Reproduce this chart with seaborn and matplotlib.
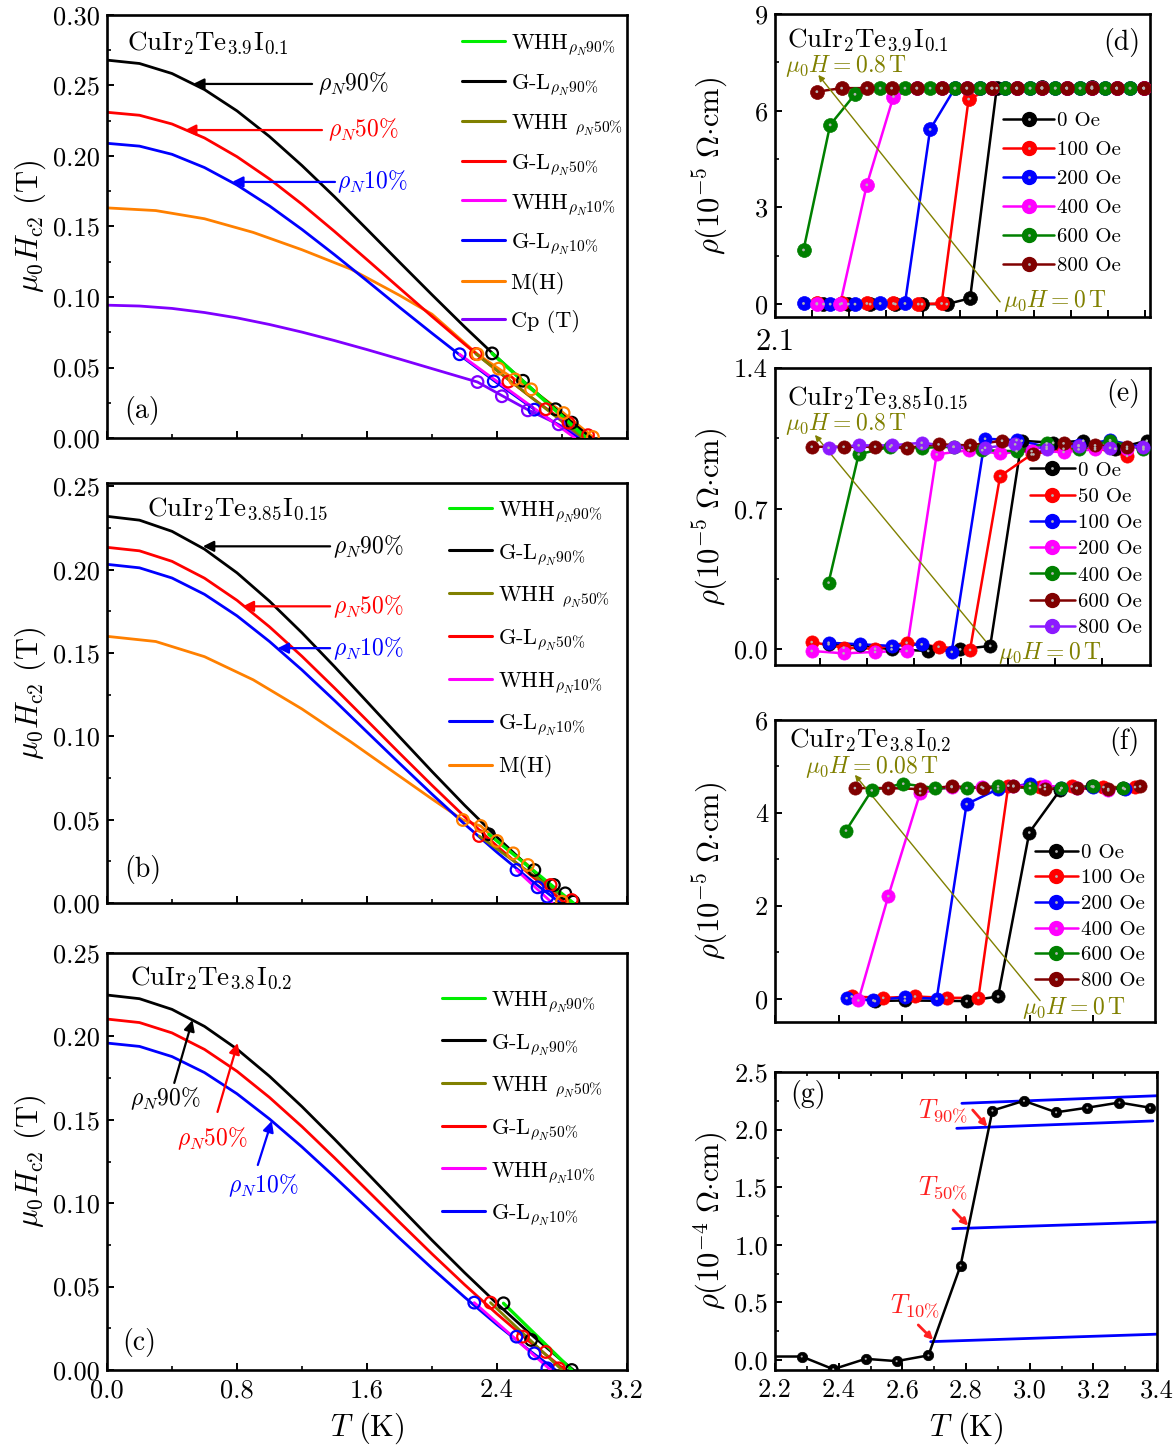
import numpy as np
import pandas as pd
import matplotlib
matplotlib.use("Agg")
import matplotlib.pyplot as plt
import seaborn as sns
from matplotlib.lines import Line2D
from matplotlib.ticker import MultipleLocator, FormatStrFormatter, FixedLocator, FixedFormatter, NullFormatter
from matplotlib.legend_handler import HandlerTuple

# ------------------------------------------------------------------ data
# panel (a)  CuIr2Te3.9I0.1
a_gl90_T = [0.0, 0.2, 0.4, 0.6, 0.8, 1.0, 1.2, 1.4, 1.6, 1.8, 2.0, 2.2, 2.4, 2.6, 2.8, 2.98]
a_gl90_H = [0.268, 0.2656, 0.2585, 0.2471, 0.2320, 0.2138, 0.1932, 0.1711, 0.1480, 0.1247, 0.1016, 0.0789, 0.0571, 0.0363, 0.0167, 0.0]
a_gl50_T = [0.0, 0.2, 0.4, 0.6, 0.8, 1.0, 1.2, 1.4, 1.6, 1.8, 2.0, 2.2, 2.4, 2.6, 2.8, 2.96]
a_gl50_H = [0.231, 0.2289, 0.2227, 0.2128, 0.1995, 0.1837, 0.1658, 0.1465, 0.1265, 0.1063, 0.0862, 0.0666, 0.0477, 0.0298, 0.0128, 0.0]
a_gl10_T = [0.0, 0.2, 0.4, 0.6, 0.8, 1.0, 1.2, 1.4, 1.6, 1.8, 2.0, 2.2, 2.4, 2.6, 2.8, 2.90]
a_gl10_H = [0.209, 0.2070, 0.2012, 0.1918, 0.1794, 0.1646, 0.1479, 0.1300, 0.1115, 0.0927, 0.0743, 0.0563, 0.0391, 0.0227, 0.0073, 0.0]
a_mh_T = [0.0, 0.3, 0.6, 0.9, 1.2, 1.5, 1.8, 2.0, 2.28, 2.41, 2.51, 2.61, 2.81, 2.99]
a_mh_H = [0.1632, 0.1613, 0.1555, 0.1458, 0.1335, 0.1198, 0.1012, 0.0878, 0.0594, 0.0492, 0.0416, 0.0345, 0.0177, 0.0007]
a_cp_T = [0.0, 0.2, 0.4, 0.6, 0.8, 1.0, 1.2, 1.4, 1.6, 1.8, 2.0, 2.2, 2.28, 2.43, 2.59, 2.78, 2.93]
a_cp_H = [0.0942, 0.0936, 0.0919, 0.0890, 0.0852, 0.0805, 0.0751, 0.0691, 0.0627, 0.0560, 0.0492, 0.0424, 0.0397, 0.0301, 0.0200, 0.0095, 0.0]
a_whh90_T = [2.37, 2.94]; a_whh90_H = [0.0600, 0.001]
a_whh50_T = [2.27, 2.93]; a_whh50_H = [0.0596, 0.0]
a_whh10_T = [2.17, 2.88]; a_whh10_H = [0.0594, 0.0]
a_pt90_T = [2.37, 2.56, 2.76, 2.86]; a_pt90_H = [0.0600, 0.0406, 0.0204, 0.0109]
a_pt50_T = [2.27, 2.47, 2.70, 2.84, 2.96]; a_pt50_H = [0.0596, 0.0400, 0.0204, 0.0109, 0.0020]
a_pt10_T = [2.17, 2.38, 2.63]; a_pt10_H = [0.0594, 0.0402, 0.0201]
a_ptmh_T = [2.28, 2.41, 2.51, 2.61, 2.81, 2.99]; a_ptmh_H = [0.0594, 0.0492, 0.0416, 0.0345, 0.0177, 0.0007]
a_ptcp_T = [2.28, 2.43, 2.59, 2.78]; a_ptcp_H = [0.0397, 0.0296, 0.0196, 0.0097]

# panel (b)  CuIr2Te3.85I0.15
b_gl90_T = [0.0, 0.2, 0.4, 0.6, 0.8, 1.0, 1.2, 1.4, 1.6, 1.8, 2.0, 2.2, 2.4, 2.6, 2.8, 2.85]
b_gl90_H = [0.232, 0.2297, 0.2230, 0.2123, 0.1981, 0.1811, 0.1621, 0.1418, 0.1208, 0.0997, 0.0789, 0.0587, 0.0395, 0.0212, 0.0041, 0.0]
b_gl50_T = [0.0, 0.2, 0.4, 0.6, 0.8, 1.0, 1.2, 1.4, 1.6, 1.8, 2.0, 2.2, 2.4, 2.6, 2.8, 2.82]
b_gl50_H = [0.2134, 0.2113, 0.2050, 0.1949, 0.1816, 0.1657, 0.1480, 0.1290, 0.1095, 0.0899, 0.0706, 0.0519, 0.0341, 0.0173, 0.0015, 0.0]
b_gl10_T = [0.0, 0.2, 0.4, 0.6, 0.8, 1.0, 1.2, 1.4, 1.6, 1.8, 2.0, 2.2, 2.4, 2.6, 2.79]
b_gl10_H = [0.2032, 0.2011, 0.1950, 0.1852, 0.1723, 0.1569, 0.1398, 0.1215, 0.1026, 0.0838, 0.0653, 0.0474, 0.0304, 0.0143, 0.0]
b_mh_T = [0.0, 0.3, 0.6, 0.9, 1.2, 1.5, 1.8, 2.0, 2.19, 2.30, 2.40, 2.50, 2.59, 2.80]
b_mh_H = [0.1600, 0.1569, 0.1478, 0.1339, 0.1164, 0.0967, 0.0761, 0.0624, 0.0498, 0.0462, 0.0372, 0.0298, 0.0228, 0.0008]
b_whh90_T = [2.35, 2.87]; b_whh90_H = [0.0412, 0.0]
b_whh50_T = [2.29, 2.86]; b_whh50_H = [0.0402, 0.0]
b_whh10_T = [2.52, 2.74]; b_whh10_H = [0.0198, 0.0]
b_pt90_T = [2.35, 2.63, 2.75, 2.82, 2.87]; b_pt90_H = [0.0412, 0.0198, 0.0108, 0.0058, 0.0008]
b_pt50_T = [2.29, 2.73, 2.86]; b_pt50_H = [0.0402, 0.0108, 0.0018]
b_pt10_T = [2.52, 2.65, 2.71]; b_pt10_H = [0.0198, 0.0094, 0.0038]
b_ptmh_T = [2.19, 2.30, 2.40, 2.50, 2.59, 2.80]; b_ptmh_H = [0.0498, 0.0462, 0.0372, 0.0298, 0.0228, 0.0008]

# panel (c)  CuIr2Te3.8I0.2
c_gl90_T = [0.0, 0.2, 0.4, 0.6, 0.8, 1.0, 1.2, 1.4, 1.6, 1.8, 2.0, 2.2, 2.4, 2.6, 2.8, 2.87]
c_gl90_H = [0.2248, 0.2226, 0.2162, 0.2060, 0.1924, 0.1761, 0.1579, 0.1384, 0.1182, 0.0979, 0.0778, 0.0584, 0.0398, 0.0221, 0.0056, 0.0]
c_gl50_T = [0.0, 0.2, 0.4, 0.6, 0.8, 1.0, 1.2, 1.4, 1.6, 1.8, 2.0, 2.2, 2.4, 2.6, 2.8, 2.82]
c_gl50_H = [0.2104, 0.2083, 0.2021, 0.1922, 0.1791, 0.1634, 0.1459, 0.1272, 0.1079, 0.0886, 0.0696, 0.0512, 0.0336, 0.0170, 0.0015, 0.0]
c_gl10_T = [0.0, 0.2, 0.4, 0.6, 0.8, 1.0, 1.2, 1.4, 1.6, 1.8, 2.0, 2.2, 2.4, 2.6, 2.76]
c_gl10_H = [0.196, 0.1940, 0.1879, 0.1783, 0.1656, 0.1505, 0.1337, 0.1158, 0.0974, 0.0790, 0.0610, 0.0437, 0.0272, 0.0117, 0.0]
c_whh90_T = [2.44, 2.86]; c_whh90_H = [0.0400, 0.0]
c_whh50_T = [2.36, 2.80]; c_whh50_H = [0.0404, 0.0]
c_whh10_T = [2.26, 2.73]; c_whh10_H = [0.0404, 0.0]
c_pt90_T = [2.44, 2.61, 2.86]; c_pt90_H = [0.0400, 0.0180, 0.0]
c_pt50_T = [2.36, 2.56, 2.70, 2.78]; c_pt50_H = [0.0404, 0.0200, 0.0108, 0.0010]
c_pt10_T = [2.26, 2.52, 2.63, 2.71]; c_pt10_H = [0.0404, 0.0200, 0.0100, 0.0010]

# panel (d)  rho(T) CuIr2Te3.9I0.1, fields 0..800 Oe
d_fields = ["0 Oe", "100 Oe", "200 Oe", "400 Oe", "600 Oe", "800 Oe"]
d_T_0 = [2.231, 2.298, 2.357, 2.425, 2.497, 2.564, 2.627, 2.699, 2.753, 2.821, 2.888, 2.956, 3.023, 3.096]
d_R_0 = [0.0, 0.0, 0.0, 0.0, 0.0, 0.0, 0.18, 6.70, 6.70, 6.72, 6.70, 6.74, 6.70, 6.70]
d_T_100 = [2.213, 2.280, 2.348, 2.420, 2.487, 2.550, 2.623, 2.686, 2.753, 2.821, 2.888, 2.956, 3.023, 3.096]
d_R_100 = [0.02, 0.02, 0.02, 0.02, 0.0, 0.02, 6.36, 6.70, 6.70, 6.70, 6.70, 6.70, 6.70, 6.70]
d_T_200 = [2.177, 2.249, 2.316, 2.384, 2.451, 2.519, 2.586, 2.654, 2.722, 2.789, 2.857, 2.924, 2.992, 3.059]
d_R_200 = [0.02, 0.0, 0.0, 0.02, 0.02, 5.42, 6.70, 6.70, 6.70, 6.70, 6.70, 6.70, 6.70, 6.70]
d_T_400 = [2.213, 2.276, 2.348, 2.420, 2.483, 2.550, 2.618, 2.686, 2.753, 2.821, 2.888, 2.956, 3.023, 3.096]
d_R_400 = [0.0, 0.0, 3.70, 6.44, 6.70, 6.70, 6.70, 6.70, 6.70, 6.70, 6.70, 6.70, 6.70, 6.70]
d_T_600 = [2.177, 2.249, 2.316, 2.384, 2.451, 2.519, 2.586, 2.654, 2.722, 2.789, 2.857, 2.924, 2.992, 3.059]
d_R_600 = [1.68, 5.56, 6.51, 6.70, 6.70, 6.70, 6.70, 6.70, 6.70, 6.70, 6.70, 6.70, 6.70, 6.70]
d_T_800 = [2.213, 2.280, 2.348, 2.415, 2.483, 2.550, 2.618, 2.686, 2.753, 2.821, 2.888, 2.956, 3.023, 3.096]
d_R_800 = [6.59, 6.70, 6.70, 6.70, 6.70, 6.70, 6.70, 6.70, 6.70, 6.70, 6.70, 6.70, 6.70, 6.70]

# panel (e)  rho(T) CuIr2Te3.85I0.15
e_fields = ["0 Oe", "50 Oe", "100 Oe", "200 Oe", "400 Oe", "600 Oe", "800 Oe"]
e_T_0 = [2.218, 2.285, 2.352, 2.430, 2.498, 2.562, 2.629, 2.696, 2.760, 2.828, 2.895]
e_R_0 = [0.025, 0.020, 0.0, -0.008, 0.0, 0.017, 1.038, 1.028, 1.038, 0.998, 1.038]
e_T_50 = [2.182, 2.250, 2.317, 2.384, 2.452, 2.519, 2.583, 2.650, 2.718, 2.785, 2.853]
e_R_50 = [0.036, 0.008, 0.003, 0.033, 0.013, -0.003, 0.862, 0.970, 0.998, 1.003, 0.962]
e_T_100 = [2.218, 2.285, 2.352, 2.416, 2.480, 2.551, 2.618, 2.682, 2.750, 2.817, 2.888]
e_R_100 = [0.033, 0.025, 0.017, 0.025, -0.013, 1.048, 1.041, 1.008, 1.015, 1.041, 1.003]
e_T_200 = [2.182, 2.250, 2.317, 2.384, 2.448, 2.516, 2.583, 2.650, 2.718, 2.785, 2.853]
e_R_200 = [-0.008, -0.020, -0.013, -0.008, 0.970, 0.991, 0.975, 0.986, 0.982, 0.995, 0.998]
e_T_400 = [2.218, 2.282, 2.349, 2.416, 2.484, 2.545, 2.618, 2.682, 2.750, 2.817, 2.888]
e_R_400 = [0.332, 0.970, 1.008, 1.003, 1.008, 0.991, 0.986, 1.025, 0.995, 1.038, 0.995]
e_T_600 = [2.182, 2.250, 2.317, 2.384, 2.452, 2.519, 2.587, 2.654, 2.718, 2.785, 2.853]
e_R_600 = [1.008, 1.008, 1.008, 1.003, 1.020, 1.015, 1.038, 0.970, 1.025, 1.015, 1.008]
e_T_800 = [2.218, 2.282, 2.352, 2.416, 2.484, 2.551, 2.615, 2.682, 2.750, 2.817, 2.888]
e_R_800 = [1.003, 1.015, 1.015, 1.028, 1.008, 1.003, 1.020, 0.998, 1.012, 1.003, 1.008]

# panel (f)  rho(T) CuIr2Te3.8I0.2
f_fields = ["0 Oe", "100 Oe", "200 Oe", "400 Oe", "600 Oe", "800 Oe"]
f_T_0 = [2.514, 2.608, 2.802, 2.901, 2.999, 3.095, 3.195, 3.294]
f_R_0 = [-0.05, -0.036, -0.05, 0.049, 3.578, 4.485, 4.571, 4.535]
f_T_100 = [2.441, 2.540, 2.640, 2.739, 2.839, 2.933, 3.033, 3.132, 3.232, 3.331]
f_R_100 = [0.049, 0.020, 0.049, 0.020, 0.020, 4.586, 4.557, 4.571, 4.557, 4.557]
f_T_200 = [2.425, 2.509, 2.608, 2.708, 2.802, 2.901, 3.001, 3.100, 3.200, 3.299]
f_R_200 = [0.013, -0.036, 0.035, 0.0, 4.190, 4.514, 4.629, 4.535, 4.557, 4.514]
f_T_400 = [2.462, 2.556, 2.656, 2.755, 2.849, 2.949, 3.048, 3.148, 3.247]
f_R_400 = [-0.036, 2.21, 4.427, 4.557, 4.557, 4.586, 4.586, 4.535, 4.485]
f_T_600 = [2.423, 2.504, 2.603, 2.703, 2.802, 2.901, 3.001, 3.100, 3.200, 3.294]
f_R_600 = [3.62, 4.485, 4.629, 4.535, 4.535, 4.571, 4.535, 4.535, 4.571, 4.535]
f_T_800 = [2.451, 2.556, 2.656, 2.755, 2.854, 2.949, 3.048, 3.148, 3.247, 3.347]
f_R_800 = [4.535, 4.535, 4.514, 4.571, 4.535, 4.571, 4.514, 4.535, 4.514, 4.571]

# panel (g)  rho(T) zero field, 10^-4 Ohm cm
g_T = [2.19, 2.284, 2.383, 2.485, 2.582, 2.682, 2.783, 2.883, 2.982, 3.083, 3.181, 3.282, 3.378]
g_R = [0.03, 0.03, -0.08, 0.01, -0.01, 0.04, 0.82, 2.165, 2.25, 2.15, 2.19, 2.235, 2.19]
g_fit_top_T = [2.787, 3.401]; g_fit_top_R = [2.228, 2.294]
g_fit90_T = [2.771, 3.387]; g_fit90_R = [2.011, 2.075]
g_fit50_T = [2.758, 3.400]; g_fit50_R = [1.140, 1.198]
g_fit10_T = [2.689, 3.400]; g_fit10_R = [0.159, 0.224]

# ------------------------------------------------------------------ style
sns.set_theme(style="ticks")
plt.rcParams.update({
    "font.family": ["cmr10", "DejaVu Serif"],
    "mathtext.fontset": "cm",
    "axes.unicode_minus": False,
    "axes.formatter.use_mathtext": True,
    "axes.linewidth": 1.9,
    "axes.edgecolor": "black",
    "axes.facecolor": "white",
    "figure.facecolor": "white",
    "xtick.direction": "in", "ytick.direction": "in",
    "xtick.major.size": 5, "ytick.major.size": 5,
    "xtick.minor.size": 3, "ytick.minor.size": 3,
    "xtick.major.width": 1.4, "ytick.major.width": 1.4,
    "xtick.minor.width": 1.2, "ytick.minor.width": 1.2,
    "xtick.labelsize": 19, "ytick.labelsize": 19,
    "xtick.color": "black", "ytick.color": "black",
    "xtick.major.pad": 6, "ytick.major.pad": 5,
    "axes.labelsize": 22, "axes.labelcolor": "black",
    "text.color": "black",
})

GREEN = "#00ee00"; OLIVE = "#808000"; RED = "#ff0000"; MAG = "#ff00ff"
BLUE = "#0000ff"; ORANGE = "#ff8000"; PURPLE = "#8000ff"; BLACK = "#000000"
BROWN = "#800000"; DGREEN = "#008000"; VIOLET = "#8c1aff"
HILITE = "#b4b4b4"
HF = 0.2

W, H = 1175, 1446
fig = plt.figure(figsize=(W / 100, H / 100), dpi=100)


def add_ax(x0, y0, x1, y1):
    return fig.add_axes([x0 / W, 1 - y1 / H, (x1 - x0) / W, (y1 - y0) / H])


def curve(ax, T, Y, color, lw=2.0, z=2):
    sns.lineplot(x=T, y=Y, ax=ax, color=color, lw=lw, sort=False,
                 estimator=None, errorbar=None, legend=False, zorder=z)


def circles(ax, T, Y, color, z=4):
    sns.scatterplot(x=T, y=Y, ax=ax, marker="o", s=70, facecolor="none",
                    edgecolor=color, linewidth=1.6, legend=False, zorder=z)


def balls(ax, T, Y, color, ms=10, lw=1.8, z=3, skip_first=False):
    curve(ax, T, Y, color, lw=lw, z=z)
    Tb, Yb = (T[1:], Y[1:]) if skip_first else (T, Y)
    sns.scatterplot(x=Tb, y=Yb, ax=ax, color=color, s=ms ** 2,
                    edgecolor=color, linewidth=0.5, legend=False, zorder=z + 0.05)
    sns.scatterplot(x=Tb, y=Yb, ax=ax, color=HILITE, s=(ms * HF) ** 2,
                    edgecolor="none", linewidth=0, legend=False, zorder=z + 0.1)


def ball_handle(color, ms=10):
    return (Line2D([], [], color=color, lw=1.8, marker="o", ms=ms,
                   mfc=color, mec=color),
            Line2D([], [], ls="none", marker="o", ms=ms * HF,
                   mfc=HILITE, mec="none"))


def arrow(ax, head, tail, color, lw=1.6, ms=16):
    ax.annotate("", xy=head, xytext=tail,
                arrowprops=dict(arrowstyle="-|>", color=color, lw=lw,
                                mutation_scale=ms, shrinkA=0, shrinkB=0))


def left_axis(ax, ymax, ymajor, show_x):
    ax.set_xlim(0, 3.2)
    ax.set_ylim(0, ymax)
    ax.xaxis.set_major_locator(MultipleLocator(0.8))
    ax.xaxis.set_minor_locator(MultipleLocator(0.4))
    ax.yaxis.set_major_locator(MultipleLocator(ymajor))
    ax.yaxis.set_minor_locator(MultipleLocator(ymajor / 2))
    ax.yaxis.set_major_formatter(FormatStrFormatter("%.2f"))
    ax.xaxis.set_major_formatter(FormatStrFormatter("%.1f"))
    ax.tick_params(which="both", top=False, right=False)
    if not show_x:
        ax.tick_params(axis="x", which="both", labelbottom=False)
    ax.set_ylabel(r"$\mu_0H_{\mathrm{c2}}$ (T)")
    ax.yaxis.set_label_coords(-0.113, 0.5)
    ax.set_xlabel("")


def left_legend(ax, labels, colors, anchor, spacing):
    hs = [Line2D([], [], color=c, lw=2.2) for c in colors]
    ax.legend(hs, labels, loc="upper left", bbox_to_anchor=anchor,
              frameon=False, fontsize=16, handlelength=1.95,
              handletextpad=0.25, labelspacing=spacing, borderpad=0,
              borderaxespad=0)


gl_labels = [r"WHH$_{\rho_N 90\%}$", r"G-L$_{\rho_N 90\%}$",
             r"WHH $_{\rho_N 50\%}$", r"G-L$_{\rho_N 50\%}$",
             r"WHH$_{\rho_N 10\%}$", r"G-L$_{\rho_N 10\%}$"]
gl_colors = [GREEN, BLACK, OLIVE, RED, MAG, BLUE]

# ------------------------------------------------------------------ (a)
ax = add_ax(107, 15, 627, 438)
curve(ax, a_cp_T, a_cp_H, PURPLE)
curve(ax, a_mh_T, a_mh_H, ORANGE)
curve(ax, a_gl10_T, a_gl10_H, BLUE)
curve(ax, a_gl50_T, a_gl50_H, RED)
curve(ax, a_gl90_T, a_gl90_H, BLACK)
curve(ax, a_whh10_T, a_whh10_H, MAG, z=3)
curve(ax, a_whh50_T, a_whh50_H, OLIVE, z=3)
curve(ax, a_whh90_T, a_whh90_H, GREEN, lw=2.6, z=3)
circles(ax, a_pt90_T, a_pt90_H, BLACK)
circles(ax, a_pt10_T, a_pt10_H, BLUE)
circles(ax, a_ptcp_T, a_ptcp_H, PURPLE)
circles(ax, a_pt50_T, a_pt50_H, RED)
circles(ax, a_ptmh_T, a_ptmh_H, ORANGE)
left_axis(ax, 0.30, 0.05, False)
left_legend(ax, gl_labels + ["M(H)", "Cp (T)"], gl_colors + [ORANGE, PURPLE],
            (0.682, 0.958), 0.68)
ax.text(0.038, 0.936, r"CuIr$_2$Te$_{3.9}$I$_{0.1}$", transform=ax.transAxes,
        fontsize=19.5, va="center", ha="left")
ax.text(0.033, 0.066, "(a)", transform=ax.transAxes, fontsize=20, va="center")
arrow(ax, (0.53, 0.2511), (1.262, 0.2511), BLACK)
ax.text(1.30, 0.2511, r"$\rho_N$90%", fontsize=17, va="center", color=BLACK)
arrow(ax, (0.48, 0.2184), (1.323, 0.2184), RED)
ax.text(1.36, 0.2184, r"$\rho_N$50%", fontsize=17, va="center", color=RED)
arrow(ax, (0.77, 0.1816), (1.403, 0.1816), BLUE)
ax.text(1.415, 0.1816, r"$\rho_N$10%", fontsize=17, va="center", color=BLUE)

# ------------------------------------------------------------------ (b)
ax = add_ax(107, 483, 627, 903)
curve(ax, b_mh_T, b_mh_H, ORANGE)
curve(ax, b_gl10_T, b_gl10_H, BLUE)
curve(ax, b_gl50_T, b_gl50_H, RED)
curve(ax, b_gl90_T, b_gl90_H, BLACK)
curve(ax, b_whh10_T, b_whh10_H, MAG, z=3)
curve(ax, b_whh50_T, b_whh50_H, OLIVE, z=3)
curve(ax, b_whh90_T, b_whh90_H, GREEN, lw=2.4, z=3)
circles(ax, b_pt90_T, b_pt90_H, BLACK)
circles(ax, b_pt50_T, b_pt50_H, RED)
circles(ax, b_pt10_T, b_pt10_H, BLUE)
circles(ax, b_ptmh_T, b_ptmh_H, ORANGE)
left_axis(ax, 0.252, 0.05, False)
left_legend(ax, gl_labels + ["M(H)"], gl_colors + [ORANGE], (0.658, 0.961), 0.81)
ax.text(0.077, 0.94, r"CuIr$_2$Te$_{3.85}$I$_{0.15}$", transform=ax.transAxes,
        fontsize=19.5, va="center", ha="left")
ax.text(0.033, 0.079, "(b)", transform=ax.transAxes, fontsize=20, va="center")
arrow(ax, (0.59, 0.214), (1.373, 0.214), BLACK)
ax.text(1.39, 0.214, r"$\rho_N$90%", fontsize=17, va="center", color=BLACK)
arrow(ax, (0.835, 0.178), (1.373, 0.178), RED)
ax.text(1.39, 0.178, r"$\rho_N$50%", fontsize=17, va="center", color=RED)
arrow(ax, (1.05, 0.1529), (1.373, 0.1529), BLUE)
ax.text(1.39, 0.1529, r"$\rho_N$10%", fontsize=17, va="center", color=BLUE)

# ------------------------------------------------------------------ (c)
ax = add_ax(107, 953, 627, 1370)
curve(ax, c_gl10_T, c_gl10_H, BLUE)
curve(ax, c_gl50_T, c_gl50_H, RED)
curve(ax, c_gl90_T, c_gl90_H, BLACK)
curve(ax, c_whh10_T, c_whh10_H, MAG, z=3)
curve(ax, c_whh50_T, c_whh50_H, OLIVE, z=3)
curve(ax, c_whh90_T, c_whh90_H, GREEN, lw=2.4, z=3)
circles(ax, c_pt90_T, c_pt90_H, BLACK)
circles(ax, c_pt50_T, c_pt50_H, RED)
circles(ax, c_pt10_T, c_pt10_H, BLUE)
left_axis(ax, 0.25, 0.05, True)
ax.set_xlabel(r"$T$ (K)", labelpad=6)
left_legend(ax, gl_labels, gl_colors, (0.644, 0.913), 0.81)
ax.text(0.044, 0.942, r"CuIr$_2$Te$_{3.8}$I$_{0.2}$", transform=ax.transAxes,
        fontsize=19.5, va="center", ha="left")
ax.text(0.029, 0.065, "(c)", transform=ax.transAxes, fontsize=20, va="center")
arrow(ax, (0.526, 0.2098), (0.414, 0.1721), BLACK)
ax.text(0.36, 0.1625, r"$\rho_N$90%", fontsize=17, va="center", ha="center", color=BLACK)
arrow(ax, (0.804, 0.196), (0.68, 0.1547), RED)
ax.text(0.65, 0.1385, r"$\rho_N$50%", fontsize=17, va="center", ha="center", color=RED)
arrow(ax, (1.014, 0.1493), (0.928, 0.1229), BLUE)
ax.text(0.96, 0.1105, r"$\rho_N$10%", fontsize=17, va="center", ha="center", color=BLUE)

# ------------------------------------------------------------------ right panels helpers
rho5 = r"$\rho(10^{-5}\ \Omega{\cdot}\mathrm{cm})$"


def right_legend(ax, labels, colors, anchor, spacing, hl):
    hs = [ball_handle(c) for c in colors]
    ax.legend(hs, labels, loc="upper left", bbox_to_anchor=anchor,
              frameon=False, fontsize=15, handlelength=hl,
              handletextpad=0.15, labelspacing=spacing, borderpad=0,
              borderaxespad=0, handler_map={tuple: HandlerTuple(ndivide=1, pad=0)})


def olive_note(ax, xy, text):
    ax.text(xy[0], xy[1], text, color=OLIVE, fontsize=17, va="center")


# ------------------------------------------------------------------ (d)
ax = add_ax(775, 14, 1150, 317)
for T, R, c in [(d_T_0, d_R_0, BLACK), (d_T_100, d_R_100, RED), (d_T_200, d_R_200, BLUE),
                (d_T_400, d_R_400, MAG), (d_T_600, d_R_600, DGREEN), (d_T_800, d_R_800, BROWN)]:
    balls(ax, T, R, c)
ax.set_xlim(2.1, 3.113)
ax.set_ylim(-0.4, 9.0)
ax.xaxis.set_major_locator(FixedLocator([2.1 + 0.1 * i for i in range(11)]))
ax.xaxis.set_major_formatter(FixedFormatter(["2.1"] + [""] * 10))
ax.yaxis.set_major_locator(MultipleLocator(3))
ax.yaxis.set_minor_locator(MultipleLocator(1.5))
ax.yaxis.set_major_formatter(FormatStrFormatter("%d"))
ax.tick_params(which="both", top=False, right=False)
ax.tick_params(axis="x", labelsize=22, pad=8)
ax.set_ylabel(rho5)
ax.yaxis.set_label_coords(-0.12, 0.5)
ax.set_xlabel("")
right_legend(ax, d_fields, [BLACK, RED, BLUE, MAG, DGREEN, BROWN], (0.608, 0.679), 0.50, 2.45)
ax.text(0.032, 0.915, r"CuIr$_2$Te$_{3.9}$I$_{0.1}$", transform=ax.transAxes,
        fontsize=19.5, va="center")
ax.text(0.975, 0.905, "(d)", transform=ax.transAxes, fontsize=20, va="center", ha="right")
arrow(ax, (2.217, 7.11), (2.708, 0.07), OLIVE, lw=1.0, ms=9)
olive_note(ax, (2.127, 7.40), r"$\mu_0H = 0.8\,\mathrm{T}$")
olive_note(ax, (2.716, 0.09), r"$\mu_0H = 0\,\mathrm{T}$")

# ------------------------------------------------------------------ (e)
ax = add_ax(775, 368, 1150, 665)
for T, R, c in [(e_T_0, e_R_0, BLACK), (e_T_50, e_R_50, RED), (e_T_100, e_R_100, BLUE),
                (e_T_200, e_R_200, MAG), (e_T_400, e_R_400, DGREEN), (e_T_600, e_R_600, BROWN),
                (e_T_800, e_R_800, VIOLET)]:
    balls(ax, T, R, c, ms=9.5)
ax.set_xlim(2.104, 2.902)
ax.set_ylim(-0.078, 1.4)
ax.xaxis.set_major_locator(FixedLocator([2.2 + 0.1 * i for i in range(7)]))
ax.xaxis.set_major_formatter(NullFormatter())
ax.yaxis.set_major_locator(MultipleLocator(0.7))
ax.yaxis.set_minor_locator(MultipleLocator(0.35))
ax.yaxis.set_major_formatter(FormatStrFormatter("%.1f"))
ax.tick_params(which="both", top=False, right=False)
ax.set_ylabel(rho5)
ax.yaxis.set_label_coords(-0.12, 0.5)
ax.set_xlabel("")
right_legend(ax, e_fields, [BLACK, RED, BLUE, MAG, DGREEN, BROWN, VIOLET], (0.68, 0.687), 0.37, 2.15)
ax.text(0.032, 0.902, r"CuIr$_2$Te$_{3.85}$I$_{0.15}$", transform=ax.transAxes,
        fontsize=19.5, va="center")
ax.text(0.975, 0.915, "(e)", transform=ax.transAxes, fontsize=20, va="center", ha="right")
arrow(ax, (2.189, 1.067), (2.562, 0.013), OLIVE, lw=1.0, ms=9)
olive_note(ax, (2.126, 1.12), r"$\mu_0H = 0.8\,\mathrm{T}$")
olive_note(ax, (2.579, -0.017), r"$\mu_0H = 0\,\mathrm{T}$")

# ------------------------------------------------------------------ (f)
ax = add_ax(775, 720, 1155, 1022)
for T, R, c in [(f_T_0, f_R_0, BLACK), (f_T_100, f_R_100, RED), (f_T_200, f_R_200, BLUE),
                (f_T_400, f_R_400, MAG), (f_T_600, f_R_600, DGREEN), (f_T_800, f_R_800, BROWN)]:
    balls(ax, T, R, c, ms=9.5)
ax.set_xlim(2.2, 3.394)
ax.set_ylim(-0.5, 6.0)
ax.xaxis.set_major_locator(MultipleLocator(0.2))
ax.xaxis.set_major_formatter(NullFormatter())
ax.yaxis.set_major_locator(MultipleLocator(2))
ax.yaxis.set_minor_locator(MultipleLocator(1))
ax.yaxis.set_major_formatter(FormatStrFormatter("%d"))
ax.tick_params(which="both", top=False, right=False)
ax.set_ylabel(rho5)
ax.yaxis.set_label_coords(-0.118, 0.5)
ax.set_xlabel("")
right_legend(ax, f_fields, [BLACK, RED, BLUE, MAG, DGREEN, BROWN], (0.684, 0.592), 0.34, 2.05)
ax.text(0.037, 0.935, r"CuIr$_2$Te$_{3.8}$I$_{0.2}$", transform=ax.transAxes,
        fontsize=19.5, va="center")
ax.text(0.96, 0.93, "(f)", transform=ax.transAxes, fontsize=20, va="center", ha="right")
arrow(ax, (2.451, 4.82), (3.033, -0.04), OLIVE, lw=1.0, ms=9)
olive_note(ax, (2.294, 4.99), r"$\mu_0H = 0.08\,\mathrm{T}$")
olive_note(ax, (2.976, -0.19), r"$\mu_0H = 0\,\mathrm{T}$")

# ------------------------------------------------------------------ (g)
ax = add_ax(775, 1072, 1157, 1370)
for T, R in [(g_fit_top_T, g_fit_top_R), (g_fit90_T, g_fit90_R),
             (g_fit50_T, g_fit50_R), (g_fit10_T, g_fit10_R)]:
    curve(ax, T, R, BLUE, lw=2.0, z=2)
balls(ax, g_T, g_R, BLACK, ms=7.5, lw=1.8, z=3, skip_first=True)
ax.set_xlim(2.2, 3.4)
ax.set_ylim(-0.087, 2.5)
ax.xaxis.set_major_locator(MultipleLocator(0.2))
ax.xaxis.set_minor_locator(MultipleLocator(0.1))
ax.xaxis.set_major_formatter(FormatStrFormatter("%.1f"))
ax.yaxis.set_major_locator(MultipleLocator(0.5))
ax.yaxis.set_minor_locator(MultipleLocator(0.25))
ax.yaxis.set_major_formatter(FormatStrFormatter("%.1f"))
ax.tick_params(which="both", top=True, right=False)
ax.set_ylabel(r"$\rho(10^{-4}\ \Omega{\cdot}\mathrm{cm})$")
ax.yaxis.set_label_coords(-0.118, 0.5)
ax.set_xlabel(r"$T$ (K)", labelpad=6)
ax.text(0.039, 0.923, "(g)", transform=ax.transAxes, fontsize=20, va="center")
TRED = "#ff2020"
ax.text(2.649, 2.16, r"$T_{90\%}$", color=TRED, fontsize=19, va="center")
arrow(ax, (2.867, 2.025), (2.821, 2.17), TRED, lw=2.0, ms=10)
ax.text(2.649, 1.493, r"$T_{50\%}$", color=TRED, fontsize=19, va="center")
arrow(ax, (2.807, 1.166), (2.760, 1.302), TRED, lw=2.0, ms=10)
ax.text(2.561, 0.463, r"$T_{10\%}$", color=TRED, fontsize=19, va="center")
arrow(ax, (2.697, 0.174), (2.650, 0.304), TRED, lw=2.0, ms=10)

fig.savefig("out.png", dpi=100)
